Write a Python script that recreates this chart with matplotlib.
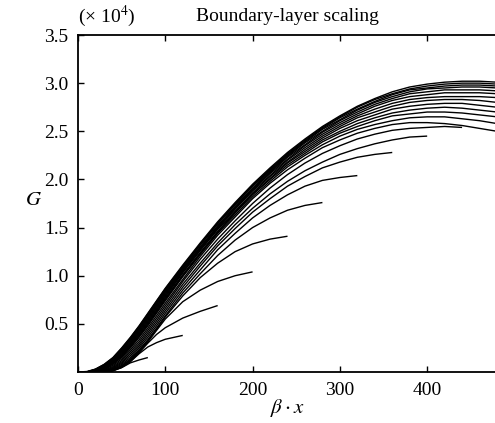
import matplotlib
matplotlib.use("Agg")
import matplotlib.pyplot as plt

plt.rcParams["font.family"] = ["Liberation Serif", "DejaVu Serif"]
plt.rcParams["mathtext.fontset"] = "stix"

# streamwise positions (beta * x) shared by all gain curves
beta_x = [0, 10, 20, 30, 40, 50, 60, 70, 80, 90, 100, 120, 140, 160, 180, 200,
          220, 240, 260, 280, 300, 320, 340, 360, 380, 400, 420, 440, 460, 480]

# gain curves (units of 1e4); shorter domains end earlier
g_080 = [0, 0, 0, 0, 0.012, 0.045, 0.095, 0.125, 0.15]
g_120 = [0, 0, 0, 0, 0.014, 0.048, 0.107, 0.19, 0.26, 0.305, 0.34, 0.38]
g_160 = [0, 0, 0, 0, 0.015, 0.05, 0.11, 0.20, 0.30, 0.39, 0.46, 0.56, 0.63, 0.69]
g_200 = [0, 0, 0, 0.001, 0.018, 0.056, 0.118, 0.21, 0.312, 0.432, 0.55, 0.73,
         0.85, 0.94, 1.00, 1.04]
g_240 = [0, 0, 0, 0.002, 0.021, 0.062, 0.126, 0.22, 0.324, 0.444, 0.571, 0.79,
         0.98, 1.13, 1.25, 1.33, 1.38, 1.41]
g_280 = [0, 0, 0, 0.003, 0.024, 0.068, 0.134, 0.23, 0.336, 0.456, 0.584, 0.82,
         1.02, 1.21, 1.37, 1.50, 1.60, 1.68, 1.73, 1.76]
g_320 = [0, 0, 0, 0.005, 0.03, 0.08, 0.15, 0.25, 0.36, 0.48, 0.61, 0.85, 1.06,
         1.27, 1.44, 1.60, 1.73, 1.84, 1.93, 1.99, 2.02, 2.04]
g_360 = [0, 0, 0, 0.009, 0.038, 0.092, 0.17, 0.27, 0.384, 0.506, 0.636, 0.88,
         1.10, 1.31, 1.49, 1.66, 1.80, 1.93, 2.03, 2.12, 2.18, 2.23, 2.26, 2.28]
g_400 = [0, 0, 0, 0.013, 0.046, 0.104, 0.19, 0.29, 0.408, 0.532, 0.662, 0.91,
         1.13, 1.34, 1.53, 1.70, 1.85, 1.98, 2.09, 2.18, 2.26, 2.32, 2.37, 2.41,
         2.44, 2.45]
g_440 = [0, 0, 0.001, 0.018, 0.056, 0.118, 0.21, 0.312, 0.432, 0.558, 0.688,
         0.94, 1.17, 1.38, 1.57, 1.75, 1.91, 2.05, 2.17, 2.27, 2.35, 2.42, 2.47,
         2.51, 2.53, 2.54, 2.55, 2.54]
g_480 = [0, 0, 0.003, 0.024, 0.068, 0.134, 0.23, 0.336, 0.456, 0.584, 0.714,
         0.96, 1.20, 1.42, 1.61, 1.80, 1.96, 2.10, 2.22, 2.33, 2.41, 2.48, 2.53,
         2.57, 2.59, 2.59, 2.58, 2.56, 2.53, 2.50]
g_520 = [0, 0, 0.005, 0.03, 0.08, 0.15, 0.25, 0.36, 0.48, 0.61, 0.74, 0.99,
         1.22, 1.44, 1.63, 1.82, 1.98, 2.13, 2.25, 2.36, 2.45, 2.52, 2.57, 2.61,
         2.64, 2.65, 2.65, 2.63, 2.61, 2.58]
g_560 = [0, 0, 0.007, 0.034, 0.086, 0.16, 0.26, 0.372, 0.493, 0.623, 0.753,
         1.00, 1.23, 1.45, 1.65, 1.84, 2.00, 2.15, 2.27, 2.39, 2.48, 2.55, 2.61,
         2.66, 2.68, 2.70, 2.70, 2.69, 2.67, 2.65]
g_600 = [0, 0, 0.009, 0.038, 0.092, 0.17, 0.27, 0.384, 0.506, 0.636, 0.766,
         1.01, 1.24, 1.46, 1.66, 1.85, 2.01, 2.17, 2.29, 2.41, 2.50, 2.58, 2.64,
         2.69, 2.72, 2.74, 2.75, 2.74, 2.72, 2.70]
g_640 = [0, 0, 0.011, 0.042, 0.098, 0.18, 0.28, 0.396, 0.519, 0.649, 0.779,
         1.03, 1.26, 1.48, 1.67, 1.86, 2.03, 2.18, 2.31, 2.43, 2.53, 2.61, 2.67,
         2.73, 2.76, 2.78, 2.79, 2.79, 2.77, 2.75]
g_680 = [0, 0, 0.013, 0.046, 0.104, 0.19, 0.29, 0.408, 0.532, 0.662, 0.792,
         1.04, 1.27, 1.49, 1.69, 1.88, 2.04, 2.20, 2.33, 2.45, 2.55, 2.64, 2.70,
         2.76, 2.80, 2.82, 2.83, 2.83, 2.82, 2.80]
g_720 = [0, 0, 0.015, 0.05, 0.11, 0.20, 0.30, 0.42, 0.545, 0.675, 0.805, 1.05,
         1.28, 1.50, 1.70, 1.89, 2.06, 2.21, 2.35, 2.47, 2.57, 2.66, 2.73, 2.79,
         2.83, 2.85, 2.86, 2.86, 2.86, 2.85]
g_760 = [0, 0, 0.018, 0.056, 0.118, 0.21, 0.312, 0.432, 0.558, 0.688, 0.818,
         1.06, 1.29, 1.51, 1.71, 1.90, 2.07, 2.23, 2.36, 2.49, 2.59, 2.68, 2.76,
         2.82, 2.86, 2.88, 2.90, 2.90, 2.90, 2.89]
g_800 = [0, 0, 0.021, 0.062, 0.126, 0.22, 0.324, 0.444, 0.571, 0.701, 0.831,
         1.07, 1.30, 1.52, 1.72, 1.91, 2.08, 2.24, 2.38, 2.50, 2.61, 2.70, 2.78,
         2.84, 2.89, 2.91, 2.93, 2.93, 2.93, 2.92]
g_840 = [0, 0, 0.024, 0.068, 0.134, 0.23, 0.336, 0.456, 0.584, 0.714, 0.844,
         1.08, 1.32, 1.54, 1.74, 1.93, 2.09, 2.25, 2.39, 2.52, 2.62, 2.72, 2.80,
         2.86, 2.91, 2.94, 2.95, 2.96, 2.96, 2.95]
g_880 = [0, 0, 0.026, 0.071, 0.14, 0.235, 0.342, 0.46, 0.59, 0.72, 0.85, 1.09,
         1.32, 1.54, 1.74, 1.93, 2.10, 2.26, 2.40, 2.53, 2.64, 2.73, 2.81, 2.88,
         2.93, 2.95, 2.97, 2.98, 2.98, 2.97]
g_920 = [0, 0, 0.029, 0.077, 0.146, 0.245, 0.354, 0.474, 0.604, 0.734, 0.864,
         1.10, 1.33, 1.55, 1.75, 1.94, 2.11, 2.27, 2.41, 2.54, 2.65, 2.75, 2.83,
         2.89, 2.94, 2.97, 2.99, 3.00, 3.00, 2.99]
g_960 = [0, 0.005, 0.03, 0.08, 0.15, 0.25, 0.36, 0.48, 0.61, 0.74, 0.87, 1.11,
         1.34, 1.56, 1.76, 1.95, 2.12, 2.28, 2.42, 2.55, 2.66, 2.76, 2.84, 2.91,
         2.96, 2.99, 3.01, 3.02, 3.02, 3.01]

curves = [g_080, g_120, g_160, g_200, g_240, g_280, g_320, g_360, g_400, g_440,
          g_480, g_520, g_560, g_600, g_640, g_680, g_720, g_760, g_800, g_840,
          g_880, g_920, g_960]

x_ticks = [0, 100, 200, 300, 400]
y_ticks = [0.5, 1.0, 1.5, 2.0, 2.5, 3.0, 3.5]

W, H = 495, 423
fig = plt.figure(figsize=(W / 100, H / 100), dpi=100)
ax = fig.add_axes([78 / W, 51 / H, 419 / W, 337 / H])

for g in curves:
    ax.plot(beta_x[:len(g)], g, color="black", lw=1.0, solid_capstyle="butt")

ax.set_xlim(0, 480)
ax.set_ylim(0, 3.5)
ax.set_xticks(x_ticks)
ax.set_xticklabels([str(t) for t in x_ticks])
ax.set_yticks(y_ticks)
ax.set_yticklabels([f"{t:.1f}" for t in y_ticks])
ax.tick_params(direction="in", top=True, right=False, length=4, width=1.0,
               labelsize=14, pad=7, colors="black")
ax.spines["right"].set_visible(False)
for sp in ax.spines.values():
    sp.set_linewidth(1.3)
    sp.set_color("black")

ax.set_xlabel(r"$\beta\cdot x$", fontsize=15)
ax.xaxis.set_label_coords(0.5, -0.108)
ax.xaxis.label.set_verticalalignment("center")
ax.set_ylabel(r"$G$", fontsize=15, rotation=0)
ax.yaxis.set_label_coords(-0.105, 0.51)
ax.yaxis.label.set_verticalalignment("center")

fig.text(287.5 / W, 1 - 21 / H, "Boundary-layer scaling", fontsize=14,
         ha="center", va="baseline")
fig.text(78 / W, 1 - 22 / H, r"(× 10$^{4}$)", fontsize=14,
         ha="left", va="baseline")

fig.savefig("out.png", dpi=100)
